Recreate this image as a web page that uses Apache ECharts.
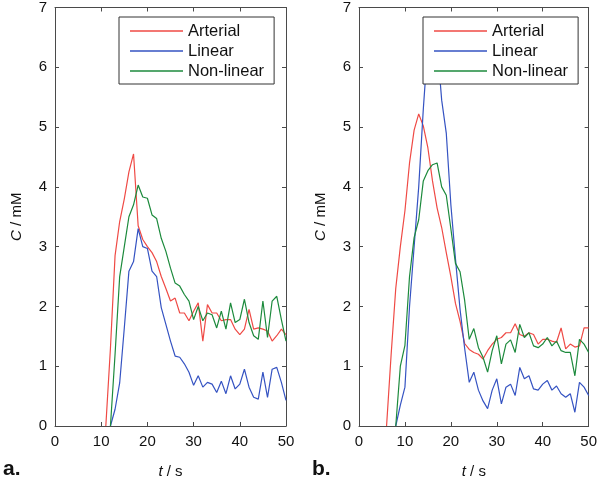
<!DOCTYPE html>
<html>
<head>
<meta charset="utf-8">
<script src="https://cdn.jsdelivr.net/npm/echarts@6/dist/echarts.min.js"></script>
<style>
html,body{margin:0;padding:0;background:#fff;}
#c{width:600px;height:484px;}
</style>
</head>
<body>
<div id="c"></div>
<script>
// ---- Data ----
const seriesNames = ['Arterial', 'Linear', 'Non-linear'];
const xTicks = [0, 10, 20, 30, 40, 50];
const yTicks = [0, 1, 2, 3, 4, 5, 6, 7];

// Panel a (t in s)
const tA = [11,12,13,14,15,16,17,18,19,20,21,22,23,24,25,26,27,28,29,30,
            31,32,33,34,35,36,37,38,39,40,41,42,43,44,45,46,47,48,49,50];
const arterialA = [0,1.3,2.85,3.42,3.8,4.25,4.55,3.35,3.12,3.0,2.9,2.75,2.5,2.3,2.09,2.14,1.89,1.89,1.76,1.92,
                   2.06,1.42,2.03,1.89,1.89,1.76,1.78,1.78,1.62,1.53,1.62,1.95,1.62,1.64,1.62,1.59,1.42,1.51,1.62,1.53];
const linearA   = [null,0,0.28,0.72,1.64,2.59,2.75,3.3,3.0,2.97,2.59,2.5,1.98,1.7,1.42,1.17,1.15,1.04,0.9,0.68,
                   0.84,0.65,0.73,0.7,0.56,0.75,0.54,0.84,0.62,0.7,0.95,0.65,0.48,0.45,0.9,0.48,0.95,0.98,0.73,0.43];
const nonlinA   = [null,0,1.2,2.5,3.0,3.5,3.7,4.03,3.83,3.81,3.53,3.47,3.14,2.92,2.64,2.39,2.34,2.2,2.09,1.78,
                   2.0,1.76,1.89,1.86,1.64,1.92,1.62,2.06,1.73,1.78,2.12,1.73,1.51,1.45,2.09,1.48,2.09,2.17,1.78,1.42];

// Panel b (t in s)
const tB = [6,7,8,9,10,11,12,13,14,15,16,17,18,19,20,21,22,23,24,25,26,27,28,29,30,
            31,32,33,34,35,36,37,38,39,40,41,42,43,44,45,46,47,48,49,50];
const arterialB = [0,1.2,2.3,3.0,3.6,4.4,4.95,5.22,5.02,4.65,4.1,3.65,3.32,2.9,2.5,2.05,1.75,1.38,1.28,1.23,1.2,1.12,1.26,1.37,1.45,
                   1.48,1.56,1.56,1.71,1.53,1.5,1.56,1.53,1.37,1.45,1.45,1.42,1.4,1.64,1.29,1.37,1.32,1.34,1.64,1.64];
const linearB   = [null,null,0,0.35,0.65,2.0,3.0,4.0,5.3,6.4,6.6,6.4,5.45,4.9,3.7,2.8,1.95,1.3,0.73,0.9,0.6,0.42,0.29,0.6,0.79,
                   0.37,0.65,0.7,0.51,0.98,0.79,0.84,0.62,0.6,0.7,0.76,0.6,0.67,0.54,0.48,0.54,0.23,0.73,0.65,0.51];
const nonlinB   = [null,null,0,1.0,1.35,2.5,3.15,3.45,4.1,4.27,4.37,4.4,4.0,3.86,3.3,2.72,2.58,2.1,1.45,1.63,1.31,1.15,0.9,1.26,1.51,
                   1.04,1.37,1.44,1.23,1.7,1.48,1.56,1.34,1.31,1.37,1.48,1.34,1.42,1.26,1.23,1.23,0.84,1.45,1.37,1.23];

// ---- Styling ----
const FONT = 'Liberation Sans, Arial, Helvetica, sans-serif';
const AX = '#4a4a4a';
const colors = {'Arterial': '#ef4a45', 'Linear': '#3553c2', 'Non-linear': '#1c8a3c'};

function pairs(ts, vs){ return ts.map((t,i)=>[t, vs[i]]); }

function xAxes(gi){
  const base = {
    gridIndex: gi, type: 'value', min: xTicks[0], max: xTicks[xTicks.length-1], interval: 10,
    axisLine: {show: true, onZero: false, lineStyle: {color: AX, width: 1}},
    axisTick: {show: true, inside: true, length: 4, lineStyle: {color: AX}},
    splitLine: {show: false}
  };
  return [
    Object.assign({}, base, {
      position: 'bottom',
      axisLabel: {color: '#111', fontSize: 15, fontFamily: FONT, margin: 8},
      name: '{i|t} / s', nameLocation: 'middle', nameGap: 38,
      nameTextStyle: {color: '#111', fontSize: 15, fontFamily: FONT,
        rich: {i: {fontStyle: 'italic', fontSize: 15, fontFamily: FONT, color: '#111'}}}
    }),
    Object.assign({}, base, {position: 'top', axisLabel: {show: false}})
  ];
}
function yAxes(gi){
  const base = {
    gridIndex: gi, type: 'value', min: yTicks[0], max: yTicks[yTicks.length-1], interval: 1,
    axisLine: {show: true, onZero: false, lineStyle: {color: AX, width: 1}},
    axisTick: {show: true, inside: true, length: 4, lineStyle: {color: AX}},
    splitLine: {show: false}
  };
  return [
    Object.assign({}, base, {
      position: 'left',
      axisLabel: {color: '#111', fontSize: 15, fontFamily: FONT, margin: 8},
      name: '{i|C} / mM', nameLocation: 'middle', nameGap: 31,
      nameTextStyle: {color: '#111', fontSize: 15, fontFamily: FONT,
        rich: {i: {fontStyle: 'italic', fontSize: 15, fontFamily: FONT, color: '#111'}}}
    }),
    Object.assign({}, base, {position: 'right', axisLabel: {show: false}})
  ];
}

function lineSeries(name, ts, vs, xi, yi){
  return {
    name: name, type: 'line', xAxisIndex: xi, yAxisIndex: yi,
    data: pairs(ts, vs), symbol: 'none', connectNulls: false, animation: false,
    lineStyle: {color: colors[name], width: 1.2}, itemStyle: {color: colors[name]},
    z: 2
  };
}

function legend(left){
  return {
    left: left, top: 17, orient: 'vertical',
    backgroundColor: '#fff', borderColor: '#333', borderWidth: 1,
    padding: [4, 10, 3, 11],
    icon: 'rect', itemWidth: 53, itemHeight: 1.3, itemGap: 0,
    itemStyle: {borderWidth: 0},
    textStyle: {color: '#111', fontSize: 16.5, fontFamily: FONT, lineHeight: 20},
    data: seriesNames, selectedMode: false, z: 10
  };
}

const option = {
  backgroundColor: '#fff',
  animation: false,
  grid: [
    {left: 55, top: 7, width: 231, height: 422},
    {left: 359, top: 7, width: 230.5, height: 422}
  ],
  xAxis: [...xAxes(0), ...xAxes(1)],
  yAxis: [...yAxes(0), ...yAxes(1)],
  legend: [legend(119), legend(423)],
  series: [
    lineSeries('Arterial', tA, arterialA, 0, 0),
    lineSeries('Linear', tA, linearA, 0, 0),
    lineSeries('Non-linear', tA, nonlinA, 0, 0),
    lineSeries('Arterial', tB, arterialB, 2, 2),
    lineSeries('Linear', tB, linearB, 2, 2),
    lineSeries('Non-linear', tB, nonlinB, 2, 2)
  ],
  graphic: [
    {type: 'text', left: 3, top: 459, style: {text: 'a.', fontSize: 21, fontWeight: 'bold', fontFamily: FONT, fill: '#111'}},
    {type: 'text', left: 312, top: 459, style: {text: 'b.', fontSize: 21, fontWeight: 'bold', fontFamily: FONT, fill: '#111'}}
  ]
};

const chart = echarts.init(document.getElementById('c'), null, {renderer: 'canvas'});
chart.setOption(option);
</script>
</body>
</html>
